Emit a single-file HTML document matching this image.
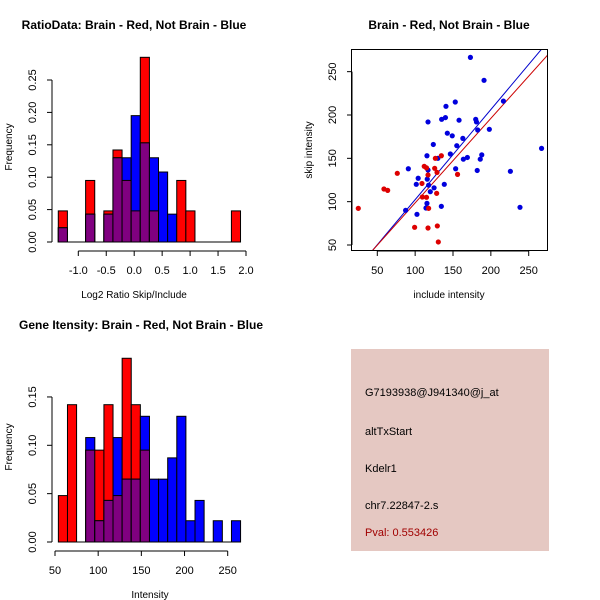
<!DOCTYPE html>
<html><head><meta charset="utf-8"><style>
body{margin:0;background:#fff}
svg{display:block;font-family:"Liberation Sans",sans-serif}
</style></head><body>
<svg id="c" width="600" height="600" viewBox="0 0 600 600">
<rect width="600" height="600" fill="#fff"/>
<g id="h1"></g>
<g id="sc"></g>
<g id="h2"></g>
<g>
<rect x="351" y="349" width="198" height="202" fill="#E5C8C2"/>
<text x="365" y="396" font-size="11">G7193938@J941340@j_at</text>
<text x="365" y="435" font-size="11">altTxStart</text>
<text x="365" y="472" font-size="11">Kdelr1</text>
<text x="365" y="509" font-size="11">chr7.22847-2.s</text>
<text x="365" y="536" font-size="11" fill="#A00000">Pval: 0.553426</text>
</g>
</svg>
<script>
// Ratio histogram data
const ratioBinStart = -1.358, ratioBinWidth = 0.163;
const ratioRed  = [0.048,0,0,0.095,0,0.048,0.142,0.095,0.048,0.285,0.048,0,0,0.095,0.048,0,0,0,0,0.048];
const ratioBlue = [0.022,0,0,0.043,0,0.043,0.13,0.13,0.195,0.153,0.13,0.108,0.043,0,0,0,0,0,0,0];
const ratioXTicks = [-1.0,-0.5,0.0,0.5,1.0,1.5,2.0];
const ratioYTicks = [0,0.05,0.10,0.15,0.20,0.25];
// Intensity histogram data
const intBinStart = 53.9, intBinWidth = 10.55;
const intRed  = [0.048,0.142,0,0.095,0.095,0.142,0.048,0.19,0.142,0.095,0,0,0,0,0,0,0,0,0,0];
const intBlue = [0,0,0,0.108,0.022,0.043,0.108,0.065,0.065,0.13,0.065,0.065,0.087,0.13,0.022,0.043,0,0.022,0,0.022];
const intXTicks = [50,100,150,200,250];
const intYTicks = [0,0.05,0.10,0.15];
// Scatter data
const blueX = [173,191,216.6,153,140.7,135,140,158,182.6,198,117,142.5,149,163,155,124,115.6,146.5,163.7,169,188,186,153.5,182,225.8,238.5,267,91,104,101.5,116,117.8,120,125,138.5,130,117,134.6,87.4,102.4,114.3,115.6,180,181];
const blueY = [266.5,240,216,215,210,195,197,194,182.7,183.5,192,179,176,173,164.6,166,153,155,149,151,154,149,138,136,135,93.5,161.5,138,127,120,126,119,111.5,116,120,150,136.5,94.6,90,85.4,92.7,98,195,192];
const redX = [24.9,58.8,63.7,76.4,99.3,109,109.5,117,112,115,117,115,117.8,126.7,125.8,128.9,134.6,128.4,129.3,130.6,156];
const redY = [92.3,114.6,113,132.7,70.4,121,105.4,69.6,140.8,139,130.8,105,92.3,150,138.5,133.8,153,109.6,72,53.5,131.5];
const lineSlope = [1.04, 0.975];
const lineIntercept = [-1.7, 1.1];
const scXTicks = [50,100,150,200,250];
const scYTicks = [50,100,150,200,250];

const NS='http://www.w3.org/2000/svg';
function mk(parent,tag,attrs,txt){const e=document.createElementNS(NS,tag);for(const k in attrs)e.setAttribute(k,attrs[k]);if(txt!==undefined)e.textContent=txt;parent.appendChild(e);return e;}

function hist(g,opt){
  const sx=v=>opt.x0+(v-opt.xv0)*opt.xs, sy=v=>opt.y0-v*opt.ys;
  for(let i=0;i<opt.red.length;i++){
    const l=sx(opt.bs+i*opt.bw), r=sx(opt.bs+(i+1)*opt.bw);
    const rv=opt.red[i], bv=opt.blue[i], mv=Math.min(rv,bv);
    if(rv>0){const e=mk(g,'rect',{x:l,y:sy(rv),width:r-l,height:sy(0)-sy(rv),fill:'#FF0000',stroke:'#000','stroke-width':1});
      
      }
    if(bv>0){const e=mk(g,'rect',{x:l,y:sy(bv),width:r-l,height:sy(0)-sy(bv),fill:'#0000FF',stroke:'#000','stroke-width':1});
      
      }
    if(mv>0){const e=mk(g,'rect',{x:l,y:sy(mv),width:r-l,height:sy(0)-sy(mv),fill:'#800080',stroke:'#000','stroke-width':1});
      
      }
  }
  mk(g,'line',{x1:sx(opt.bs),x2:sx(opt.bs+opt.red.length*opt.bw),y1:sy(0),y2:sy(0),stroke:'#000'});
  axes(g,opt,sx,sy);
}
function axes(g,opt,sx,sy){
  const xt=opt.xt, yt=opt.yt;
  const ax=mk(g,'line',{x1:sx(xt[0]),x2:sx(xt[xt.length-1]),y1:opt.xaxY,y2:opt.xaxY,stroke:'#000'});
  
  
  xt.forEach(t=>{mk(g,'line',{x1:sx(t),x2:sx(t),y1:opt.xaxY,y2:opt.xaxY+5,stroke:'#000'});
    const e=mk(g,'text',{x:sx(t),y:opt.xaxY+23,'font-size':11,'text-anchor':'middle'},opt.xf(t));
    
    });
  const ay=mk(g,'line',{x1:opt.yaxX,x2:opt.yaxX,y1:sy(yt[0]),y2:sy(yt[yt.length-1]),stroke:'#000'});
  
  
  yt.forEach(t=>{mk(g,'line',{x1:opt.yaxX,x2:opt.yaxX-5,y1:sy(t),y2:sy(t),stroke:'#000'});
    const e=mk(g,'text',{x:0,y:0,'font-size':11,'text-anchor':'middle',transform:`translate(${opt.yaxX-16},${sy(t)}) rotate(-90)`},opt.yf(t));
    
    });
  const tt=mk(g,'text',{x:opt.tx,y:opt.ty,'font-size':12,'font-weight':'bold','text-anchor':'middle'},opt.title);
  
  
  const xl=mk(g,'text',{x:opt.xlx,y:opt.xly,'font-size':10,'text-anchor':'middle'},opt.xl);
  
  
  const yl=mk(g,'text',{x:0,y:0,'font-size':10,'text-anchor':'middle',transform:`translate(${opt.ylx},${opt.yly}) rotate(-90)`},opt.yl);
  
  
}

hist(document.getElementById('h1'),{red:ratioRed,blue:ratioBlue,bs:ratioBinStart,bw:ratioBinWidth,
  x0:78.3,xv0:-1,xs:55.9,y0:242,ys:648,xt:ratioXTicks,yt:ratioYTicks,xaxY:251,yaxX:52,
  xf:t=>t.toFixed(1),yf:t=>t.toFixed(2),title:'RatioData: Brain - Red, Not Brain - Blue',tx:134,ty:29,
  xl:'Log2 Ratio Skip/Include',xlx:134,xly:298,yl:'Frequency',ylx:12,yly:147});
hist(document.getElementById('h2'),{red:intRed,blue:intBlue,bs:intBinStart,bw:intBinWidth,
  x0:55,xv0:50,xs:0.8635,y0:542,ys:967,xt:intXTicks,yt:intYTicks,xaxY:551,yaxX:52,
  xf:t=>String(t),yf:t=>t.toFixed(2),title:'Gene Itensity: Brain - Red, Not Brain - Blue',tx:141,ty:329,
  xl:'Intensity',xlx:150,xly:598,yl:'Frequency',ylx:12,yly:447});

(function(){
  const g=document.getElementById('sc');
  const sx=v=>377.3+(v-50)*0.757, sy=v=>245-(v-50)*0.8667;
  const box=mk(g,'rect',{x:351.5,y:49.5,width:196,height:201,fill:'none',stroke:'#000'});
  
  
  const clip=mk(g,'clipPath',{id:'scclip'});mk(clip,'rect',{x:352,y:50,width:195,height:200});
  const lg=mk(g,'g',{'clip-path':'url(#scclip)'});
  const lc=['#0000CC','#CC0000'];
  for(let i=0;i<2;i++){const x1=40,x2=290;
    const e=mk(lg,'line',{x1:sx(x1),y1:sy(lineSlope[i]*x1+lineIntercept[i]),x2:sx(x2),y2:sy(lineSlope[i]*x2+lineIntercept[i]),stroke:lc[i],'stroke-width':1});
    
    }
  for(let i=0;i<blueX.length;i++){const e=mk(g,'circle',{cx:sx(blueX[i]),cy:sy(blueY[i]),r:2.6,fill:'#0000DD'});
    
    }
  for(let i=0;i<redX.length;i++){const e=mk(g,'circle',{cx:sx(redX[i]),cy:sy(redY[i]),r:2.6,fill:'#DD0000'});
    
    }
  axes(g,{xt:scXTicks,yt:scYTicks,xaxY:251,yaxX:352,xf:String,yf:String,
    title:'Brain - Red, Not Brain - Blue',tx:449,ty:29,xl:'include intensity',xlx:449,xly:298,
    yl:'skip intensity',ylx:312,yly:150},sx,sy);
})();
</script>
</body></html>
